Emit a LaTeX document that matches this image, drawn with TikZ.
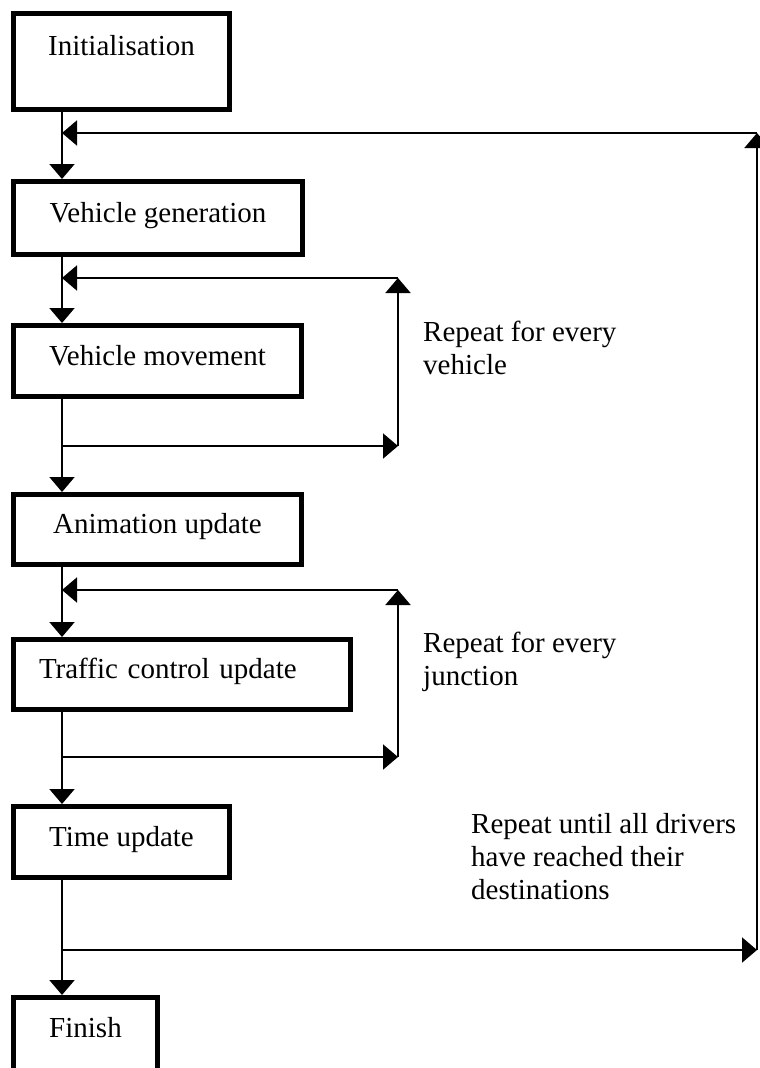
\documentclass[tikz,border=0pt]{standalone}
\usepackage{fontspec}
\setmainfont{Liberation Serif}
\usetikzlibrary{arrows.meta}

\tikzset{
  stage/.style={draw=black, line width=5pt, rectangle, inner sep=0pt,
    font=\fontsize{29}{33}\selectfont, text height=20pt, text depth=12pt},
  note/.style={anchor=base west, align=left, inner sep=0pt,
    font=\fontsize{29}{33}\selectfont},
  flow/.style={draw=black, line width=2pt,
    -{Triangle[length=15pt, width=25pt]}},
}

\begin{document}
\begin{tikzpicture}[x=1pt, y=-1pt]
\useasboundingbox (0,0) rectangle (760,1068);
\clip (0,0) rectangle (760,1068);

% process stages
\node[stage, minimum width=216pt, minimum height=96pt, text depth=33pt]
  (init) at (121.5,61.5) {Initialisation};
\node[stage, minimum width=289pt, minimum height=73pt]
  (gen) at (158,218) {Vehicle generation};
\node[stage, minimum width=288pt, minimum height=71pt]
  (move) at (157.5,361) {Vehicle movement};
\node[stage, minimum width=288pt, minimum height=70pt]
  (anim) at (157.5,529.5) {Animation update};
\node[stage, minimum height=70pt, text width=286pt, inner xsep=25.5pt, align=left]
  (ctrl) at (182,674.5) {Traffic control update};
\node[stage, minimum width=216pt, minimum height=71pt]
  (time) at (121.5,842) {Time update};
\node[stage, minimum width=144pt, minimum height=76pt, text depth=17pt]
  (fin) at (85.5,1035.5) {Finish};

% loop descriptions (anchored on the baseline of the last line)
\node[note] (vnote) at (423,374) {Repeat for every\\vehicle};
\node[note] (jnote) at (423,685) {Repeat for every\\junction};
\node[note] (dnote) at (471,899) {Repeat until all drivers\\have reached their\\destinations};

% main spine
\coordinate (spine) at (62,0);
\draw[flow] (init.south -| spine) -- (gen.north -| spine);
\draw[flow] (gen.south -| spine) -- (move.north -| spine);
\draw[flow] (move.south -| spine) -- (anim.north -| spine);
\draw[flow] (anim.south -| spine) -- (ctrl.north -| spine);
\draw[flow] (ctrl.south -| spine) -- (time.north -| spine);
\draw[flow] (time.south -| spine) -- (fin.north -| spine);

% vehicle loop
\coordinate (va) at (62,446);
\coordinate (vb) at (398,446);
\coordinate (vc) at (398,278);
\coordinate (vd) at (62,278);
\draw[flow] (va) -- (vb);
\draw[flow] (vb) -- (vc);
\draw[flow] (vc) -- (vd);

% junction loop
\coordinate (ja) at (62,757);
\coordinate (jb) at (398,757);
\coordinate (jc) at (398,590);
\coordinate (jd) at (62,590);
\draw[flow] (ja) -- (jb);
\draw[flow] (jb) -- (jc);
\draw[flow] (jc) -- (jd);

% outer time loop
\coordinate (ta) at (62,950);
\coordinate (tb) at (757,950);
\coordinate (tc) at (757,133);
\coordinate (td) at (62,133);
\draw[flow] (ta) -- (tb);
\draw[flow] (tb) -- (tc);
\draw[flow] (tc) -- (td);
\end{tikzpicture}
\end{document}
